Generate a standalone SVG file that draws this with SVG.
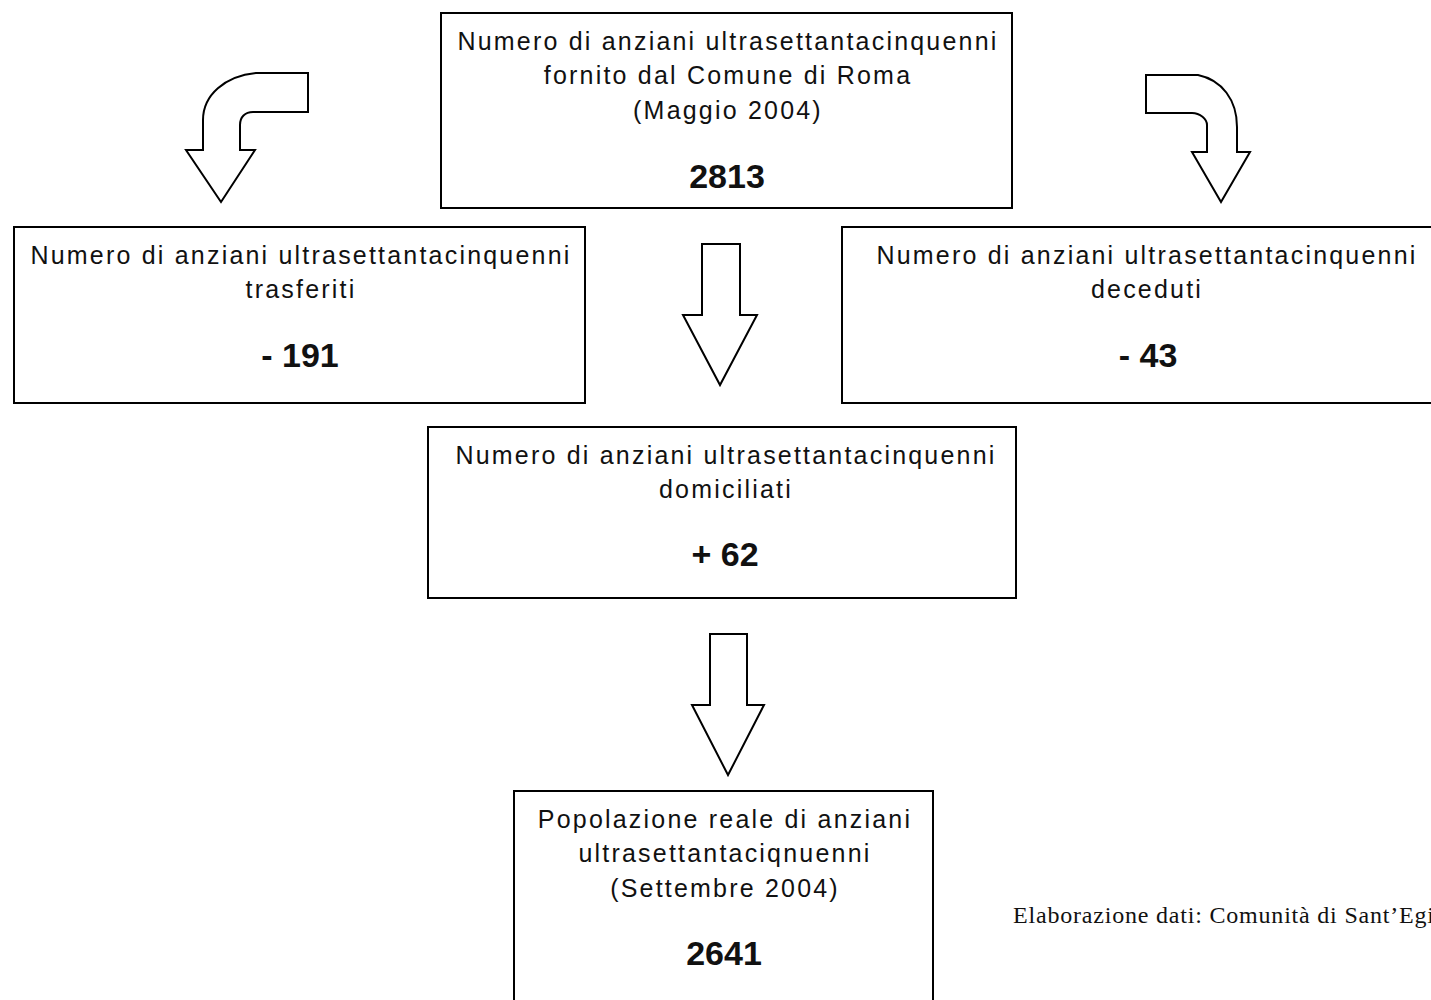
<svg xmlns="http://www.w3.org/2000/svg" width="1431" height="1000" viewBox="0 0 1431 1000">
<style>
.box{fill:#fff;stroke:#000;stroke-width:2}
.arr{fill:#fff;stroke:#000;stroke-width:2;stroke-linejoin:miter}
.t{font-family:"Liberation Sans",Arial,sans-serif;font-size:25px;letter-spacing:2.2px;fill:#111;text-anchor:middle}
.n{font-family:"Liberation Sans",Arial,sans-serif;font-size:34px;font-weight:bold;fill:#111;text-anchor:middle}
.src{font-family:"Liberation Serif","Times New Roman",serif;font-size:24px;letter-spacing:0.8px;fill:#111}
</style>
<rect width="1431" height="1000" fill="#fff"/>
<g id="connectors">
<path class="arr" d="M308,73 L256,73 C225,76 203,95 203,120 L203,150 L186,150 L221,202 L255,150 L240,150 L240,125 C240,117 245,112 253,112 L308,112 Z"/>
<path class="arr" d="M1146,75 L1198,75 C1222,80 1237,100 1237,127 L1237,152 L1250,152 L1221,202 L1192,152 L1207,152 L1207,125 C1207,119 1200,113 1192,113 L1146,113 Z"/>
<path class="arr" d="M702,244 L740,244 L740,315 L757,315 L720,385 L683,315 L702,315 Z"/>
<path class="arr" d="M710,634 L747,634 L747,705 L764,705 L728,775 L692,705 L710,705 Z"/>
</g>
<g id="node-top">
<rect class="box" x="441" y="13" width="571" height="195"/>
<text class="t" x="728" y="50">Numero di anziani ultrasettantacinquenni</text>
<text class="t" x="728" y="84">fornito dal Comune di Roma</text>
<text class="t" x="728" y="119">(Maggio 2004)</text>
<text class="n" x="727" y="188">2813</text>
</g>
<g id="node-left">
<rect class="box" x="14" y="227" width="571" height="176"/>
<text class="t" x="301" y="264">Numero di anziani ultrasettantacinquenni</text>
<text class="t" x="301" y="298">trasferiti</text>
<text class="n" x="300" y="367">- 191</text>
</g>
<g id="node-right">
<rect class="box" x="842" y="227" width="610" height="176"/>
<text class="t" x="1147" y="264">Numero di anziani ultrasettantacinquenni</text>
<text class="t" x="1147" y="298">deceduti</text>
<text class="n" x="1148" y="367">- 43</text>
</g>
<g id="node-middle">
<rect class="box" x="428" y="427" width="588" height="171"/>
<text class="t" x="726" y="464">Numero di anziani ultrasettantacinquenni</text>
<text class="t" x="726" y="498">domiciliati</text>
<text class="n" x="725" y="566">+ 62</text>
</g>
<g id="node-bottom">
<rect class="box" x="514" y="791" width="419" height="230"/>
<text class="t" x="725" y="828">Popolazione reale di anziani</text>
<text class="t" x="725" y="862">ultrasettantaciqnuenni</text>
<text class="t" x="725" y="897">(Settembre 2004)</text>
<text class="n" x="724" y="965">2641</text>
</g>
<text class="src" x="1013" y="923">Elaborazione dati: Comunità di Sant’Egidio</text>
</svg>
